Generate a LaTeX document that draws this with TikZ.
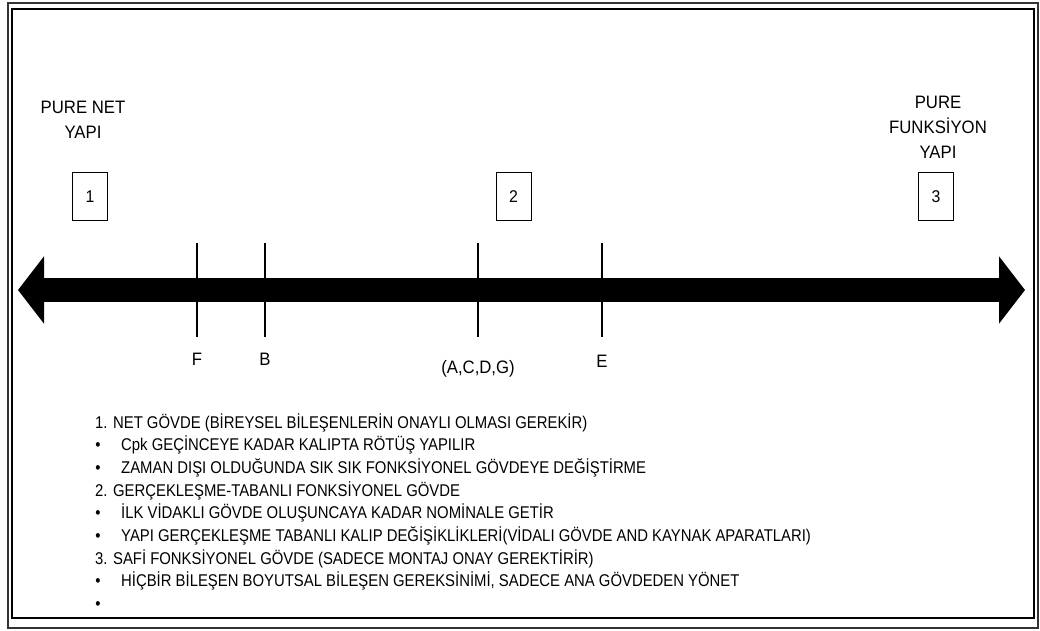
\documentclass[tikz,border=0pt]{standalone}
\usepackage{fontspec}
\setmainfont{Liberation Sans}
\newfontfamily\listfont{Liberation Sans}[FakeStretch=0.875]
\newfontfamily\labelfont{Liberation Sans}[FakeStretch=0.93]
\usetikzlibrary{arrows.meta, positioning}
\tikzset{
  % riquadri numerati
  numbox/.style={draw,line width=1pt,minimum width=35,minimum height=48,inner sep=0,
    font=\labelfont\fontsize{17}{20}\selectfont},
  headtxt/.style={align=center,anchor=north,inner sep=0,font=\labelfont\fontsize{18}{25}\selectfont},
  % tacche sull'asse
  tickline/.style={line width=1.1pt},
  ticklabel/.style={anchor=base,inner sep=0,font=\labelfont\fontsize{18}{20}\selectfont},
  % righe della legenda
  listline/.style={anchor=base west,inner sep=0,font=\listfont\fontsize{17}{20}\selectfont},
  bulletdot/.style={anchor=base,inner sep=0,font=\listfont\fontsize{17}{20}\selectfont}
}
\begin{document}
\begin{tikzpicture}[x=1pt,y=-1pt]
    \useasboundingbox (0,0) rectangle (1040,630);
    % cornice
    \draw[line width=1.2pt,black!80] (8,3) rectangle (1038,628);
    \draw[line width=1.8pt] (12,9) rectangle (1034,618);
    % asse a doppia freccia
    \coordinate (lefttip) at (18,290);
    \coordinate (righttip) at (1025,290);
    \draw[line width=24pt,{Triangle[length=26pt,width=66pt]}-{Triangle[length=26pt,width=66pt]}] (lefttip) -- (righttip);
    % estremi e punto intermedio
    \node[headtxt] (netlab) at (83,101) {PURE NET\\YAPI};
    \node[headtxt] (funclab) at (938,96) {PURE\\FUNKS\.IYON\\YAPI};
    \node[numbox] (box1) at (90,196.5) {1};
    \node[numbox] (box2) at (513.5,196.5) {2};
    \node[numbox] (box3) at (936,196.5) {3};
    % tacche
    \foreach \tx/\tname/\ty/\tlab in {197/F/365/F, 265/B/365/B, 478/ACDG/373/{(A,C,D,G)}, 602/E/367/E} {
      \draw[tickline] (\tx,243) coordinate (top\tname) -- (\tx,337) coordinate (bot\tname);
      \node[ticklabel] (lab\tname) at (\tx,\ty) {\tlab};
    }
    % legenda
    \node[listline] (l1) at (95,428) {1. NET GÖVDE (BİREYSEL BİLEŞENLERİN ONAYLI OLMASI GEREKİR)};
    \node[bulletdot] (b2) at (98,450.7) {•};
    \node[listline] (l2) at (121,450.7) {Cpk GEÇİNCEYE KADAR KALIPTA RÖTÜŞ YAPILIR};
    \node[bulletdot] (b3) at (98,473.4) {•};
    \node[listline] (l3) at (121,473.4) {ZAMAN DIŞI OLDUĞUNDA SIK SIK FONKSİYONEL GÖVDEYE DEĞİŞTİRME};
    \node[listline] (l4) at (95,496.1) {2. GERÇEKLEŞME-TABANLI FONKSİYONEL GÖVDE};
    \node[bulletdot] (b5) at (98,518.8) {•};
    \node[listline] (l5) at (121,518.8) {İLK VİDAKLI GÖVDE OLUŞUNCAYA KADAR NOMİNALE GETİR};
    \node[bulletdot] (b6) at (98,541.5) {•};
    \node[listline] (l6) at (121,541.5) {YAPI GERÇEKLEŞME TABANLI KALIP DEĞİŞİKLİKLERİ(VİDALI GÖVDE AND KAYNAK APARATLARI)};
    \node[listline] (l7) at (95,564.2) {3. SAFİ FONKSİYONEL GÖVDE (SADECE MONTAJ ONAY GEREKTİRİR)};
    \node[bulletdot] (b8) at (98,586.9) {•};
    \node[listline] (l8) at (121,586.9) {HİÇBİR BİLEŞEN BOYUTSAL BİLEŞEN GEREKSİNİMİ, SADECE ANA GÖVDEDEN YÖNET};
    \node[bulletdot] (b9) at (98,609.6) {•};
  \end{tikzpicture}
\end{document}
